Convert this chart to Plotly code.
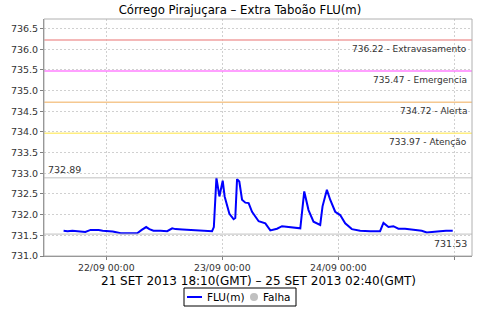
import plotly.graph_objects as go

times = [
    "2013-09-21 15:10", "2013-09-21 16:00", "2013-09-21 17:00", "2013-09-21 18:20",
    "2013-09-21 19:40", "2013-09-21 20:45", "2013-09-21 22:25", "2013-09-21 23:15",
    "2013-09-22 00:10", "2013-09-22 01:20", "2013-09-22 03:00", "2013-09-22 04:40",
    "2013-09-22 06:24", "2013-09-22 07:20", "2013-09-22 08:15", "2013-09-22 08:55",
    "2013-09-22 09:45", "2013-09-22 11:13", "2013-09-22 12:36", "2013-09-22 13:38",
    "2013-09-22 14:19", "2013-09-22 15:45", "2013-09-22 17:25", "2013-09-22 18:39",
    "2013-09-22 20:05", "2013-09-22 21:53", "2013-09-22 22:15", "2013-09-22 22:47",
    "2013-09-22 23:24", "2013-09-23 00:05", "2013-09-23 00:29", "2013-09-23 01:28",
    "2013-09-23 02:20", "2013-09-23 02:41", "2013-09-23 03:03", "2013-09-23 03:31",
    "2013-09-23 04:05", "2013-09-23 04:46", "2013-09-23 05:27", "2013-09-23 06:09",
    "2013-09-23 07:31", "2013-09-23 08:17", "2013-09-23 08:54", "2013-09-23 09:56",
    "2013-09-23 11:19", "2013-09-23 12:21", "2013-09-23 14:04", "2013-09-23 15:47",
    "2013-09-23 16:08", "2013-09-23 16:57", "2013-09-23 17:50", "2013-09-23 18:52",
    "2013-09-23 20:15", "2013-09-23 20:44", "2013-09-23 21:38", "2013-09-23 22:19",
    "2013-09-23 23:21", "2013-09-24 00:23", "2013-09-24 01:25", "2013-09-24 02:48",
    "2013-09-24 04:31", "2013-09-24 06:35", "2013-09-24 08:38", "2013-09-24 09:20",
    "2013-09-24 10:22", "2013-09-24 11:23", "2013-09-24 12:25", "2013-09-24 13:48",
    "2013-09-24 15:31", "2013-09-24 17:15", "2013-09-24 18:17", "2013-09-24 19:35",
    "2013-09-24 21:02", "2013-09-24 22:17", "2013-09-24 23:30", "2013-09-24 23:40",
]
flu = [
    731.61, 731.60, 731.61, 731.59,
    731.58, 731.63, 731.63, 731.61,
    731.60, 731.59, 731.55, 731.55,
    731.55, 731.63, 731.70, 731.65,
    731.61, 731.61, 731.60, 731.67,
    731.65, 731.64, 731.63, 731.62,
    731.60, 731.60, 731.70, 732.89,
    732.44, 732.82, 732.44, 732.02,
    731.89, 731.92, 732.86, 732.80,
    732.36, 732.29, 732.28, 732.07,
    731.84, 731.82, 731.79, 731.62,
    731.66, 731.72, 731.69, 731.67,
    731.67, 732.56, 732.11, 731.83,
    731.75, 732.20, 732.60, 732.36,
    732.07, 731.99, 731.79, 731.65,
    731.61, 731.60, 731.60, 731.80,
    731.70, 731.72, 731.66, 731.66,
    731.64, 731.61, 731.57, 731.59,
    731.60, 731.61, 731.61, 731.61,
]

threshold_values = [736.22, 735.47, 734.72, 733.97]
threshold_names = ["Extravasamento", "Emergencia", "Alerta", "Atenção"]
threshold_colors = ["#f0a0a0", "#ff80ff", "#f5c890", "#ffee80"]
max_value = 732.89
min_value = 731.53

x_range = ["2013-09-21 11:07", "2013-09-25 03:39"]
y_range = [731.0, 736.73]
title_text = "Córrego Pirajuçara – Extra Taboão FLU(m)"
xaxis_text = "21 SET 2013 18:10(GMT) – 25 SET 2013 02:40(GMT)"
legend_names = ["FLU(m)", "Falha"]

FONT = "DejaVu Sans"
L, R, T, B = 44, 8, 19, 64
PW, PH = 480 - L - R, 320 - T - B


def px(xp):
    return (xp - L) / PW


def py(yp):
    return (320 - B - yp) / PH


fig = go.Figure()
fig.add_trace(go.Scatter(x=times, y=flu, mode="lines", name=legend_names[0],
                         line=dict(color="#0000ff", width=2), showlegend=False))

shapes = []
annotations = []
for v, n, c in zip(threshold_values, threshold_names, threshold_colors):
    shapes.append(dict(type="line", xref="paper", x0=0, x1=1, yref="y", y0=v, y1=v,
                       line=dict(color=c, width=1.5), layer="above"))
    annotations.append(dict(xref="paper", x=0.993, yref="y", y=v, text=f"{v:.2f} - {n}",
                            showarrow=False, xanchor="right", yanchor="top", yshift=-2,
                            font=dict(family=FONT, size=9, color="#333333")))
for v, xa, ya, xp, ys in [(max_value, "left", "bottom", 0.005, 1), (min_value, "right", "top", 0.993, -2)]:
    shapes.append(dict(type="line", xref="paper", x0=0, x1=1, yref="y", y0=v, y1=v,
                       line=dict(color="#c0c0c0", width=1), layer="above"))
    annotations.append(dict(xref="paper", x=xp, yref="y", y=v, text=f"{v:.2f}",
                            showarrow=False, xanchor=xa, yanchor=ya, yshift=ys,
                            font=dict(family=FONT, size=9.5, color="#333333")))
# plot border
shapes.append(dict(type="rect", xref="paper", yref="paper", x0=0, x1=1, y0=0, y1=1,
                   line=dict(color="#b0b0b0", width=1), layer="above"))
# x-axis title
annotations.append(dict(xref="paper", x=0.5, yref="paper", y=py(281), text=xaxis_text,
                        showarrow=False, xanchor="center", yanchor="middle",
                        font=dict(family=FONT, size=12, color="#000000")))
# legend (drawn manually)
shapes.append(dict(type="rect", xref="paper", yref="paper", x0=px(184), x1=px(296),
                   y0=py(306), y1=py(288), line=dict(color="#000000", width=1),
                   fillcolor="white"))
shapes.append(dict(type="line", xref="paper", yref="paper", x0=px(187), x1=px(202),
                   y0=py(297), y1=py(297), line=dict(color="#0000ff", width=2)))
shapes.append(dict(type="circle", xref="paper", yref="paper", x0=px(250), x1=px(258),
                   y0=py(301), y1=py(293), line=dict(color="#c0c0c0", width=0),
                   fillcolor="#c0c0c0"))
annotations.append(dict(xref="paper", x=px(205), yref="paper", y=py(297), text=legend_names[0],
                        showarrow=False, xanchor="left", yanchor="middle",
                        font=dict(family=FONT, size=10.5, color="#000000")))
annotations.append(dict(xref="paper", x=px(261), yref="paper", y=py(297), text=legend_names[1],
                        showarrow=False, xanchor="left", yanchor="middle",
                        font=dict(family=FONT, size=10.5, color="#000000")))

fig.update_layout(
    width=480, height=320,
    margin=dict(l=L, r=R, t=T, b=B, autoexpand=False),
    paper_bgcolor="white", plot_bgcolor="white",
    font=dict(family=FONT, color="#333333"),
    title=dict(text=title_text, x=0.5, xanchor="center", y=1 - 9.5 / 320, yanchor="middle",
               font=dict(family=FONT, size=11.7, color="#000000")),
    showlegend=False,
    shapes=shapes, annotations=annotations,
)
fig.update_xaxes(range=x_range, type="date", tick0="2013-09-22", dtick=86400000,
                 tickformat="%d/%m %H:%M", showgrid=True, gridcolor="#d0d0d0", griddash="2px,2px",
                 showline=True, linecolor="#808080", ticks="outside", ticklen=3,
                 tickcolor="#808080", tickfont=dict(family=FONT, size=9.3, color="#333333"),
                 zeroline=False)
fig.update_yaxes(range=y_range, dtick=0.5, tick0=731.0, tickformat=".1f",
                 showgrid=True, gridcolor="#d0d0d0", griddash="2px,2px",
                 showline=True, linecolor="#808080", ticks="outside", ticklen=3,
                 tickcolor="#808080", tickfont=dict(family=FONT, size=9.5, color="#333333"),
                 zeroline=False)

fig.write_html("out.html")
